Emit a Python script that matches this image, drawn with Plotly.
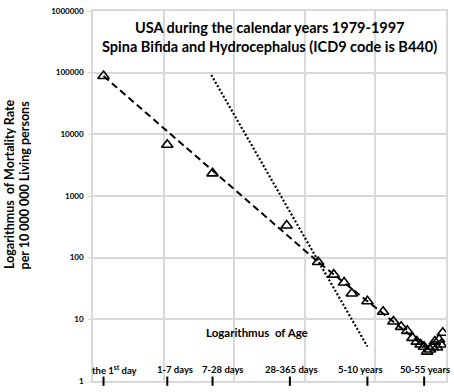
import numpy as np
import plotly.graph_objects as go

# ---- data ----
age_groups = ["the 1st day", "1-7 days", "7-28 days", "28-365 days", "1 year", "2 years",
              "3 years", "4 years", "5-9", "10-14", "15-19", "20-24", "25-29", "30-34",
              "35-39", "40-44", "45-49", "50-54", "55-59", "60-64", "65-69", "70-74",
              "75-79", "80-84", "85+"]
age_mid_days = [0.5, 4, 17.5, 196.5, 548, 913, 1278, 1643, 2738, 4563, 6388, 8213, 10038,
                11863, 13688, 15513, 17338, 19163, 20988, 22813, 24638, 26463, 28288,
                30113, 31938]
mortality = [88500, 6760, 2330, 332, 85, 53, 39.5, 26.3, 19.6, 13.3, 9.2, 7.55, 6.5,
             5.0, 4.35, 3.9, 3.6, 3.0, 3.25, 3.6, 4.35, 3.5, 4.7, 3.9, 6.05]

dashed_days = [0.5, 548, 17800]
dashed_vals = [88500, 85, 3.6]
dotted_days = [16.8, 2735]
dotted_vals = [91900, 3.62]

tick_label_texts = ["the 1<sup>st</sup> day", "1-7 days", "7-28 days", "28-365 days",
                    "5-10 years", "50-55 years"]
tick_mark_days = [0.5, 4, 17.5, 218, 2735, 17400]
tick_label_days = [0.72, 5.07, 24.8, 233, 2180, 17950]

y_tickvals = [1, 10, 100, 1000, 10000, 100000, 1000000]
y_ticktext = [str(v) for v in y_tickvals]

FONT = "Lato"
GRID = "#d9d9d9"

fig = go.Figure()
fig.add_trace(go.Scatter(x=np.log10(dashed_days), y=dashed_vals, mode="lines",
                         line=dict(color="black", width=2, dash="7px,4px"),
                         hoverinfo="skip", showlegend=False))
fig.add_trace(go.Scatter(x=np.log10(dotted_days), y=dotted_vals, mode="lines",
                         line=dict(color="black", width=2.2, dash="2px,2px"),
                         hoverinfo="skip", showlegend=False))
fig.add_trace(go.Scatter(x=np.log10(age_mid_days), y=mortality, mode="markers",
                         text=age_groups,
                         marker=dict(symbol="triangle-up-open", size=10,
                                     color="black", line=dict(width=1.6, color="black")),
                         showlegend=False))

shapes = []
for d in tick_mark_days:
    shapes.append(dict(type="line", xref="x", yref="paper", x0=np.log10(d), x1=np.log10(d),
                       y0=-0.013, y1=0.012, line=dict(color="black", width=2)))

annotations = []
for t, d in zip(tick_label_texts, tick_label_days):
    annotations.append(dict(x=np.log10(d), y=0.032, xref="x", yref="paper", text="<b>" + t + "</b>",
                            showarrow=False, xanchor="center", yanchor="middle",
                            font=dict(family=FONT, size=9.5, color="black")))
annotations += [
    dict(x=0.50, y=1 - 17 / 376, xref="paper", yref="paper",
         text="<b>USA during the calendar years 1979-1997</b>", showarrow=False,
         xanchor="center", yanchor="middle", font=dict(family=FONT, size=14.5, color="black")),
    dict(x=0.50, y=1 - 36 / 376, xref="paper", yref="paper",
         text="<b>Spina Bifida and Hydrocephalus (ICD9 code is B440)</b>", showarrow=False,
         xanchor="center", yanchor="middle", font=dict(family=FONT, size=14.5, color="black")),
    dict(x=(258 - 93) / 355, y=(382 - 333) / 376, xref="paper", yref="paper",
         text="<b>Logarithmus  of Age</b>", showarrow=False, xanchor="center", yanchor="middle",
         font=dict(family=FONT, size=11.5, color="black")),
    dict(x=(9 - 93) / 355, y=(382 - 93) / 376, xref="paper", yref="paper",
         text="<b>Logarithmus  of Mortality Rate</b>", showarrow=False, textangle=-90,
         xanchor="center", yanchor="top", font=dict(family=FONT, size=12.5, color="black")),
    dict(x=(24 - 93) / 355, y=(382 - 95) / 376, xref="paper", yref="paper",
         text="<b>per 10 000 000 Living persons</b>", showarrow=False, textangle=-90,
         xanchor="center", yanchor="top", font=dict(family=FONT, size=12.5, color="black")),
]

fig.update_layout(
    width=454, height=392,
    margin=dict(l=93, r=6, t=6, b=10),
    paper_bgcolor="white", plot_bgcolor="white",
    shapes=shapes, annotations=annotations,
    xaxis=dict(range=[-0.45, 4.55], tick0=-0.45, dtick=1, showgrid=True, gridcolor=GRID,
               gridwidth=1.5, showticklabels=False, zeroline=False, showline=True,
               linecolor=GRID, linewidth=1.5, mirror=True, ticks=""),
    yaxis=dict(type="log", range=[0, 6], tickvals=y_tickvals,
               ticktext=["<b>" + s + "</b>" for s in y_ticktext],
               tickfont=dict(family=FONT, size=8, color="black"),
               showgrid=True, gridcolor=GRID, gridwidth=1.5, zeroline=False,
               showline=True, linecolor=GRID, linewidth=1.5, mirror=True,
               ticks="outside", ticklen=3, tickcolor=GRID, ticklabelstandoff=3),
)

fig.write_html("out.html", config={"displayModeBar": False},
               post_script="document.body.style.margin='0';document.body.style.overflow='hidden';")
